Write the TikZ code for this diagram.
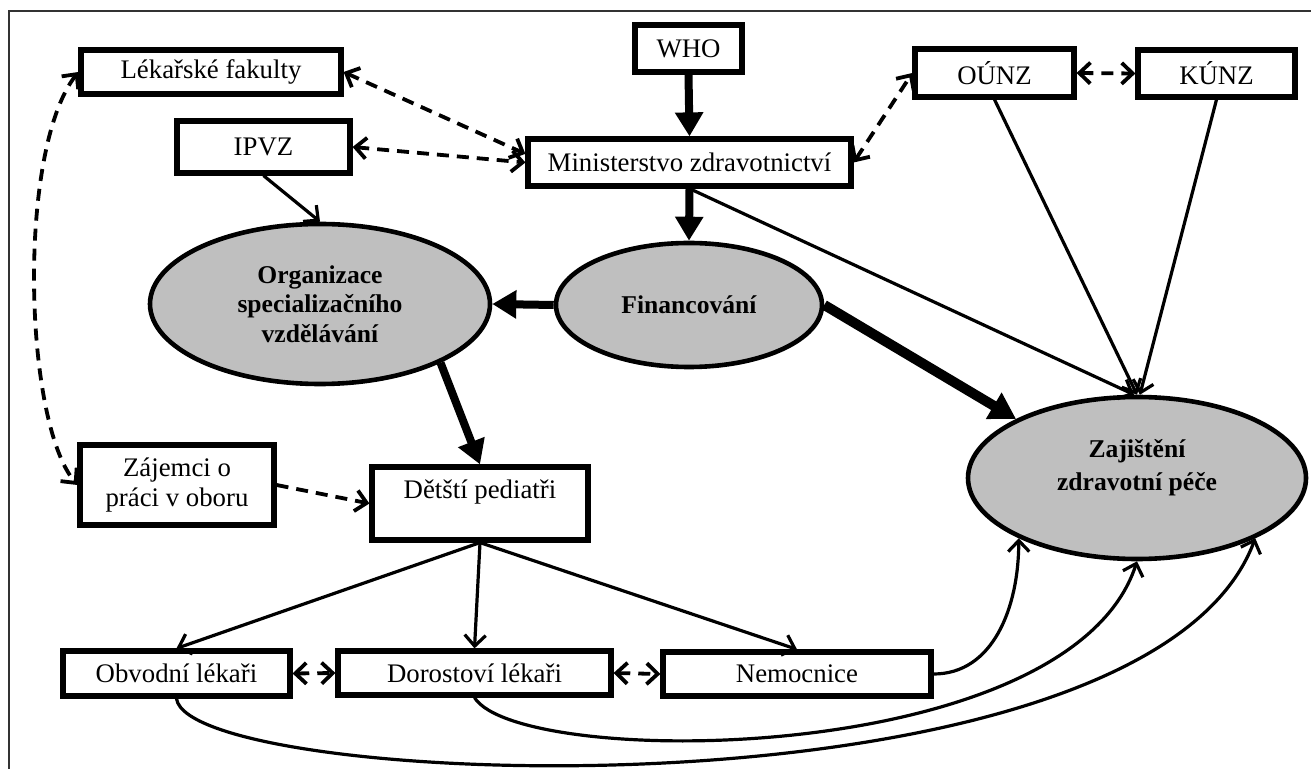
\documentclass[tikz,border=0pt]{standalone}
\usepackage{fontspec}
\setmainfont{Liberation Serif}
\usetikzlibrary{arrows.meta,shapes.geometric,calc}
\definecolor{areagray}{gray}{0.75}
\begin{document}
\begin{tikzpicture}[x=0.5pt,y=-0.5pt,
  box/.style={draw,line width=2.6pt,rectangle,inner sep=0pt,align=center,
    font={\fontsize{13.4}{15}\selectfont}},
  oval/.style={draw,line width=2.3pt,ellipse,fill=areagray,inner sep=0pt,align=center,
    font={\fontsize{12.8}{14.8}\selectfont\bfseries}},
  heavy/.style={line width=4pt,-{Triangle[length=12pt,width=13.5pt]}},
  heavier/.style={line width=5pt,-{Triangle[length=13pt,width=14.5pt]}},
  arw/.style={line width=1.6pt,-{Straight Barb[length=5.5pt,width=10.5pt]}},
  link/.style={line width=1.9pt,dash pattern=on 6pt off 4pt,
    {Straight Barb[length=5.5pt,width=10.5pt]}-{Straight Barb[length=5.5pt,width=10.5pt]}},
  linkone/.style={line width=1.9pt,dash pattern=on 6pt off 4pt,
    -{Straight Barb[length=5.5pt,width=10.5pt]}}]

\useasboundingbox (0,0) rectangle (1311,769);
% outer frame (top and left edges)
\draw[line width=1pt,black!80] (9,769) -- (9,11) -- (1311,11);

% institutions
\node[box,minimum width=130pt,minimum height=22pt] (lek) at (211,72) {Lékařské fakulty};
\node[box,minimum width=86.5pt,minimum height=26pt] (ipvz) at (263.5,147) {IPVZ};
\node[box,minimum width=53.5pt,minimum height=23.5pt] (who) at (688.5,48.5) {WHO};
\node[box,minimum width=161.5pt,minimum height=23.5pt] (min) at (689.5,162.5) {Ministerstvo zdravotnictví};
\node[box,minimum width=79.5pt,minimum height=24pt] (ounz) at (994.5,73) {OÚNZ};
\node[box,minimum width=78.5pt,minimum height=23.5pt] (kunz) at (1216.5,73.5) {KÚNZ};
\node[box,minimum width=97pt,minimum height=40pt] (zaj) at (177,485) {Zájemci o\\práci v oboru};
\node[box,minimum width=108pt,minimum height=36.5pt,text height=9pt,text depth=13.5pt] (det) at (480,503.5) {Dětští pediatři};
\node[box,minimum width=113.5pt,minimum height=22.5pt] (obv) at (176.5,673.5) {Obvodní lékaři};
\node[box,minimum width=136.5pt,minimum height=22pt] (dor) at (474.5,673) {Dorostoví lékaři};
\node[box,minimum width=134pt,minimum height=22pt] (nem) at (797,674) {Nemocnice};

% key activities
\node[oval,minimum width=170pt,minimum height=80pt] (org) at (320,304) {Organizace\\specializačního\\vzdělávání};
\node[oval,minimum width=133pt,minimum height=62pt] (fin) at (689,305) {Financování};
\node[oval,minimum width=169pt,minimum height=81pt] (care) at (1137,478) {};
\node[align=center,inner sep=0pt,font={\fontsize{12.8}{16.5}\selectfont\bfseries}] (caretext) at (1137,468) {Zajištění\\zdravotní péče};

% main flows
\draw[heavy] (who.south) -- (min.north);
\draw[heavy] (min.south) -- (fin.north);
\draw[heavy] (fin.west) -- (org.east);
\draw[heavy] (org.-26) -- (det.north);
\draw[heavier] (fin.east) -- (care.154);

% plain relations
\draw[arw] (ipvz.south) -- (org.north);
\draw[arw] (min.south) -- (care.92);
\draw[arw] (ounz.south) -- (care.90);
\draw[arw] (kunz.south) -- (care.88);
\draw[arw] (det.south) -- (obv.north);
\draw[arw] (det.south) -- (dor.north);
\draw[arw] (det.south) -- (nem.north);
\draw[arw] (nem.east) .. controls +(59,0) and +(0,70) .. (care.207);
\draw[arw] (dor.south) .. controls +(45,72) and +(-67,207) .. (care.270);
\draw[arw] (obv.south) .. controls +(12,92) and +(-108,290) .. (care.333);

% cooperation (dashed)
\draw[link] (lek.east) -- (min.177);
\draw[link] (ipvz.east) -- (min.west);
\draw[link] (min.east) -- (ounz.west);
\draw[link] (ounz.east) -- (kunz.west);
\draw[link] (lek.west) .. controls +(-61,78) and +(-54,-65) .. (zaj.west);
\draw[linkone] (zaj.east) -- (det.west);
\draw[link] (obv.east) -- (dor.west);
\draw[link] (dor.east) -- (nem.west);
\end{tikzpicture}
\end{document}
